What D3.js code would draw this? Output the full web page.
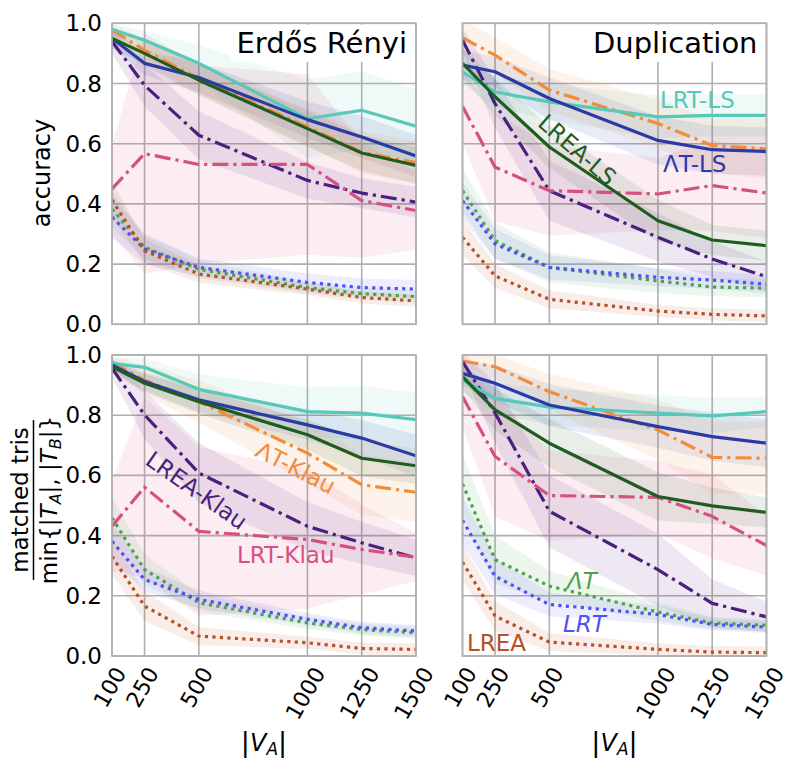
<!DOCTYPE html>
<html><head><meta charset="utf-8">
<script src="https://cdn.jsdelivr.net/npm/d3@7"></script>
<style>body{margin:0;background:#fff} svg{display:block} text{font-family:"DejaVu Sans",sans-serif}</style>
</head><body><svg id="c" width="786" height="761"></svg>
<script>
// ---------- data ----------
const xValues = [100, 250, 500, 1000, 1250, 1500];
const yTicks = [0, 0.2, 0.4, 0.6, 0.8, 1.0];
const seriesNames = ["LRT-LS", "ΛT-LS", "LREA-LS", "ΛT-Klau", "LREA-Klau", "LRT-Klau", "ΛT", "LRT", "LREA"];
const seriesColors = ["#56c9b8", "#2b3aa5", "#1f5c1f", "#f28b3a", "#4a1f7d", "#d6507f", "#4ca24c", "#5050f5", "#b85028"];
const seriesStyle = ["solid", "solid", "solid", "dashdot", "dashdot", "dashdot", "dot", "dot", "dot"];
const panelTitles = ["Erdős Rényi", "Duplication"];
const rowLabels = ["accuracy", "matched tris"];

// Erdős Rényi, accuracy (mean, band half-width)
const erAccMean = [
  [0.98, 0.944, 0.867, 0.683, 0.711, 0.658],
  [0.95, 0.867, 0.82, 0.68, 0.622, 0.559],
  [0.95, 0.9, 0.811, 0.65, 0.569, 0.528],
  [0.978, 0.91, 0.817, 0.656, 0.572, 0.537],
  [0.94, 0.794, 0.628, 0.478, 0.436, 0.406],
  [0.45, 0.567, 0.531, 0.531, 0.411, 0.378],
  [0.383, 0.256, 0.183, 0.122, 0.102, 0.092],
  [0.356, 0.25, 0.189, 0.139, 0.122, 0.117],
  [0.413, 0.244, 0.167, 0.117, 0.089, 0.078]];
const erAccSpread = [
  [0.02, 0.03, 0.06, 0.13, 0.13, 0.12],
  [0.03, 0.04, 0.05, 0.06, 0.07, 0.07],
  [0.03, 0.04, 0.05, 0.06, 0.06, 0.06],
  [0.02, 0.04, 0.05, 0.06, 0.07, 0.07],
  [0.04, 0.07, 0.08, 0.06, 0.05, 0.05],
  [0.15, 0.4, 0.33, 0.3, 0.19, 0.13],
  [0.06, 0.04, 0.03, 0.02, 0.02, 0.02],
  [0.07, 0.05, 0.03, 0.03, 0.03, 0.03],
  [0.06, 0.04, 0.03, 0.02, 0.02, 0.02]];
// Duplication, accuracy
const dupAccMean = [
  [0.839, 0.772, 0.739, 0.689, 0.694, 0.694],
  [0.861, 0.839, 0.75, 0.611, 0.58, 0.574],
  [0.867, 0.756, 0.589, 0.344, 0.28, 0.261],
  [0.952, 0.894, 0.778, 0.667, 0.594, 0.583],
  [0.944, 0.733, 0.444, 0.289, 0.217, 0.158],
  [0.724, 0.522, 0.444, 0.433, 0.461, 0.436],
  [0.444, 0.278, 0.189, 0.144, 0.124, 0.12],
  [0.411, 0.267, 0.189, 0.156, 0.147, 0.133],
  [0.289, 0.161, 0.083, 0.044, 0.033, 0.028]];
const dupAccSpread = [
  [0.04, 0.05, 0.06, 0.07, 0.07, 0.07],
  [0.05, 0.05, 0.07, 0.08, 0.08, 0.08],
  [0.05, 0.06, 0.07, 0.07, 0.05, 0.05],
  [0.06, 0.06, 0.07, 0.08, 0.09, 0.1],
  [0.04, 0.08, 0.1, 0.08, 0.06, 0.05],
  [0.12, 0.18, 0.15, 0.12, 0.15, 0.15],
  [0.07, 0.06, 0.05, 0.04, 0.03, 0.03],
  [0.06, 0.05, 0.04, 0.03, 0.03, 0.03],
  [0.06, 0.04, 0.03, 0.02, 0.02, 0.02]];
// Erdős Rényi, matched triangles
const erTriMean = [
  [0.972, 0.959, 0.886, 0.812, 0.807, 0.785],
  [0.967, 0.912, 0.851, 0.768, 0.724, 0.665],
  [0.961, 0.906, 0.845, 0.735, 0.657, 0.632],
  [0.975, 0.917, 0.845, 0.674, 0.569, 0.544],
  [0.956, 0.801, 0.608, 0.431, 0.376, 0.326],
  [0.431, 0.561, 0.414, 0.387, 0.354, 0.328],
  [0.459, 0.287, 0.177, 0.11, 0.088, 0.077],
  [0.381, 0.254, 0.188, 0.122, 0.094, 0.083],
  [0.331, 0.166, 0.066, 0.044, 0.025, 0.022]];
const erTriSpread = [
  [0.02, 0.03, 0.05, 0.08, 0.09, 0.09],
  [0.02, 0.03, 0.04, 0.05, 0.06, 0.07],
  [0.02, 0.03, 0.04, 0.05, 0.06, 0.06],
  [0.02, 0.05, 0.07, 0.1, 0.1, 0.1],
  [0.03, 0.08, 0.1, 0.08, 0.07, 0.06],
  [0.15, 0.3, 0.28, 0.23, 0.15, 0.08],
  [0.07, 0.05, 0.03, 0.02, 0.02, 0.02],
  [0.06, 0.04, 0.03, 0.02, 0.02, 0.02],
  [0.06, 0.05, 0.03, 0.02, 0.02, 0.02]];
// Duplication, matched triangles
const dupTriMean = [
  [0.917, 0.856, 0.827, 0.807, 0.798, 0.812],
  [0.939, 0.906, 0.834, 0.762, 0.729, 0.707],
  [0.928, 0.818, 0.707, 0.53, 0.499, 0.477],
  [0.98, 0.961, 0.878, 0.751, 0.66, 0.657],
  [0.978, 0.807, 0.481, 0.287, 0.175, 0.13],
  [0.862, 0.663, 0.533, 0.527, 0.464, 0.367],
  [0.572, 0.32, 0.232, 0.146, 0.11, 0.102],
  [0.451, 0.265, 0.171, 0.138, 0.105, 0.096],
  [0.312, 0.133, 0.046, 0.022, 0.013, 0.011]];
const dupTriSpread = [
  [0.04, 0.05, 0.06, 0.06, 0.06, 0.05],
  [0.04, 0.06, 0.07, 0.07, 0.08, 0.08],
  [0.04, 0.07, 0.08, 0.08, 0.06, 0.05],
  [0.02, 0.04, 0.06, 0.1, 0.12, 0.12],
  [0.03, 0.1, 0.12, 0.12, 0.08, 0.05],
  [0.1, 0.2, 0.15, 0.12, 0.14, 0.1],
  [0.1, 0.08, 0.05, 0.03, 0.02, 0.02],
  [0.08, 0.06, 0.04, 0.03, 0.02, 0.02],
  [0.06, 0.05, 0.03, 0.02, 0.02, 0.02]];

// ---------- layout ----------
const svg = d3.select("#c");
const colX = [112, 462.5], pw = 304;
const rowY = [23.3, 355], ph = 301;
const gridColor = "#b0b0b0";
const dashFor = s => s === "dot" ? "3.2,4.3" : s === "dashdot" ? "16,5,3.2,5" : null;

const panels = [
  {r: 0, c: 0, mean: erAccMean, spread: erAccSpread},
  {r: 0, c: 1, mean: dupAccMean, spread: dupAccSpread},
  {r: 1, c: 0, mean: erTriMean, spread: erTriSpread},
  {r: 1, c: 1, mean: dupTriMean, spread: dupTriSpread}];

const drawOrder = [6, 7, 8, 3, 4, 5, 0, 1, 2];

panels.forEach((p, pi) => {
  const x = d3.scaleLinear().domain([100, 1500]).range([colX[p.c], colX[p.c] + pw]);
  const y = d3.scaleLinear().domain([0, 1]).range([rowY[p.r] + ph, rowY[p.r]]);
  const g = svg.append("g");
  const clipId = "clip" + pi;
  svg.append("clipPath").attr("id", clipId).append("rect")
    .attr("x", colX[p.c]).attr("y", rowY[p.r]).attr("width", pw).attr("height", ph);

  // grid
  g.selectAll(".vg").data(xValues).join("line")
    .attr("x1", d => x(d)).attr("x2", d => x(d)).attr("y1", y(0)).attr("y2", y(1))
    .attr("stroke", gridColor).attr("stroke-width", 1.6);
  g.selectAll(".hg").data(yTicks).join("line").attr("class", "hg")
    .attr("x1", x(100)).attr("x2", x(1500)).attr("y1", d => y(d)).attr("y2", d => y(d))
    .attr("stroke", gridColor).attr("stroke-width", 1.6);

  const content = g.append("g").attr("clip-path", `url(#${clipId})`);
  // bands
  const area = d3.area().x(d => x(d.x)).y0(d => y(d.lo)).y1(d => y(d.hi));
  seriesNames.forEach((name, si) => {
    const pts = xValues.map((xv, k) => ({x: xv, lo: p.mean[si][k] - p.spread[si][k], hi: p.mean[si][k] + p.spread[si][k]}));
    content.append("path").attr("d", area(pts)).attr("fill", seriesColors[si]).attr("fill-opacity", 0.1);
  });
  // lines
  const line = d3.line().x(d => x(d.x)).y(d => y(d.v));
  drawOrder.forEach(si => {
    const pts = xValues.map((xv, k) => ({x: xv, v: p.mean[si][k]}));
    content.append("path").attr("d", line(pts)).attr("fill", "none")
      .attr("stroke", seriesColors[si]).attr("stroke-width", 3.2)
      .attr("stroke-dasharray", dashFor(seriesStyle[si]))
      .attr("stroke-linejoin", "round");
  });

  // title box
  if (p.r === 0) {
    const tx = x(1500) - 9;
    const t = g.append("text").attr("x", tx).attr("y", y(1) + 30).attr("text-anchor", "end")
      .attr("font-size", 29).attr("fill", "#000").text(panelTitles[p.c]);
    const bb = t.node().getBBox();
    g.insert("rect", "text").attr("x", bb.x - 6).attr("y", y(1) + 1.5).attr("width", x(1500) - 1.5 - (bb.x - 6))
      .attr("height", 37).attr("rx", 3).attr("fill", "#fff");
  }
  // frame edges on top
  g.append("rect").attr("x", x(100)).attr("y", y(1)).attr("width", pw).attr("height", ph)
    .attr("fill", "none").attr("stroke", gridColor).attr("stroke-width", 1.6);

  // y tick labels
  if (p.c === 0) {
    g.selectAll(".yt").data(yTicks).join("text")
      .attr("x", 102).attr("y", d => y(d)).attr("text-anchor", "end").attr("dominant-baseline", "central")
      .attr("font-size", 23).attr("fill", "#000").text(d => d3.format(".1f")(d));
  }
  // x tick labels
  if (p.r === 1) {
    const fs = 22;
    xValues.forEach(v => {
      const t = g.append("text").attr("text-anchor", "middle").attr("dominant-baseline", "central")
        .attr("font-size", fs).attr("fill", "#000").text(v);
      const W = t.node().getComputedTextLength();
      const bh = W * Math.sin(Math.PI / 3) + fs * 1.1 * 0.5;
      t.attr("transform", `translate(${x(v) - 2},${663 + bh / 2}) rotate(-60)`);
    });
    const xl = g.append("text").attr("x", x(800)).attr("y", 751).attr("text-anchor", "middle")
      .attr("font-size", 24).attr("fill", "#000");
    xl.append("tspan").attr("font-size", 27).text("|");
    xl.append("tspan").attr("font-style", "italic").text("V");
    xl.append("tspan").attr("font-style", "italic").attr("font-size", 17).attr("dy", 4).text("A");
    xl.append("tspan").attr("dy", -4).attr("font-size", 27).text("|");
  }
});

// y axis labels
svg.append("text").attr("transform", "translate(50,173) rotate(-90)").attr("text-anchor", "middle")
  .attr("font-size", 24).attr("fill", "#000").text(rowLabels[0]);
const fc = 500;
svg.append("text").attr("transform", `translate(28,${fc}) rotate(-90)`).attr("text-anchor", "middle")
  .attr("font-size", 23).attr("fill", "#000").text(rowLabels[1]);
svg.append("line").attr("x1", 33.5).attr("x2", 33.5).attr("y1", fc - 80).attr("y2", fc + 80)
  .attr("stroke", "#000").attr("stroke-width", 1.5);
const den = svg.append("text").attr("transform", `translate(57,${fc}) rotate(-90)`).attr("text-anchor", "middle")
  .attr("font-size", 23).attr("fill", "#000");
den.append("tspan").text("min{|");
den.append("tspan").attr("font-style", "italic").text("T");
den.append("tspan").attr("font-style", "italic").attr("font-size", 16).attr("dy", 4).text("A");
den.append("tspan").attr("dy", -4).text("|, |");
den.append("tspan").attr("font-style", "italic").text("T");
den.append("tspan").attr("font-style", "italic").attr("font-size", 16).attr("dy", 4).text("B");
den.append("tspan").attr("dy", -4).text("|}");

// inline series labels
const lab = (txt, si, x0, y0, rot, anchor, italic) => {
  svg.append("text").attr("transform", `translate(${x0},${y0}) rotate(${rot})`)
    .attr("text-anchor", anchor).attr("font-size", 23).attr("fill", seriesColors[si])
    .attr("font-style", italic ? "italic" : "normal").text(txt);
};
lab(seriesNames[0], 0, 660, 108, 0, "start");
lab(seriesNames[1], 1, 663, 172, 0, "start");
lab(seriesNames[2], 2, 572, 156, 41, "middle");
lab(seriesNames[3], 3, 292, 475, 27, "middle");
lab(seriesNames[4], 4, 192, 497, 35, "middle");
lab(seriesNames[5], 5, 237, 563, 0, "start");
lab(seriesNames[6], 6, 567, 589, 0, "start", true);
lab(seriesNames[7], 7, 563, 632, 0, "start", true);
lab(seriesNames[8], 8, 467, 651, 0, "start");
</script></body></html>
